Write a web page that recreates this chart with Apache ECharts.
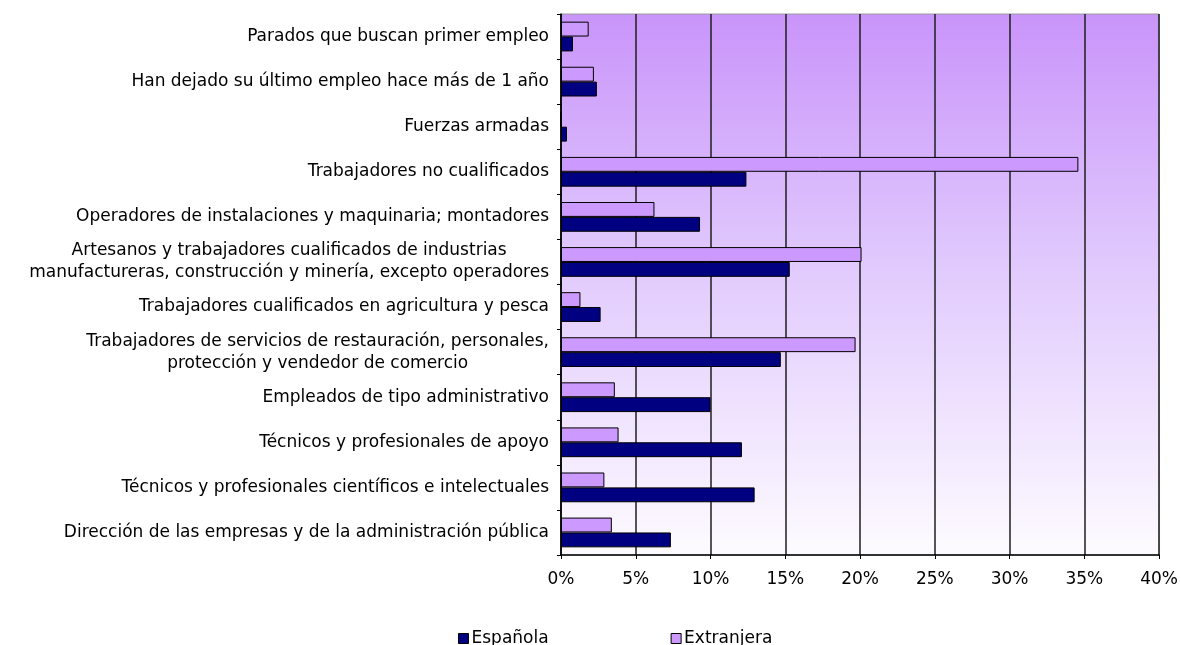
<!DOCTYPE html>
<html>
<head>
<meta charset="utf-8">
<script src="https://cdn.jsdelivr.net/npm/echarts@6/dist/echarts.min.js"></script>
<style>
  html, body { margin: 0; padding: 0; background: #fff; }
  #chart { width: 1181px; height: 645px; }
</style>
</head>
<body>
<div id="chart"></div>
<script>
// categories listed top to bottom as in the picture
const categories = [
  'Parados que buscan primer empleo',
  'Han dejado su último empleo hace más de 1 año',
  'Fuerzas armadas',
  'Trabajadores no cualificados',
  'Operadores de instalaciones y maquinaria; montadores',
  'Artesanos y trabajadores cualificados de industrias\nmanufactureras, construcción y minería, excepto operadores',
  'Trabajadores cualificados en agricultura y pesca',
  'Trabajadores de servicios de restauración, personales,\nprotección y vendedor de comercio',
  'Empleados de tipo administrativo',
  'Técnicos y profesionales de apoyo',
  'Técnicos y profesionales científicos e intelectuales',
  'Dirección de las empresas y de la administración pública'
]

const espanola = [0.8, 2.4, 0.4, 12.4, 9.3, 15.3, 2.65, 14.7, 10.0, 12.1, 12.95, 7.35]
const extranjera = [1.85, 2.2, 0, 34.6, 6.25, 20.1, 1.3, 19.7, 3.6, 3.85, 2.9, 3.4]

const xTicks = { min: 0, max: 40, interval: 5 }

const chart = echarts.init(document.getElementById('chart'))

const labelFont = 'DejaVu Sans'
const fs = 17

chart.setOption({
  animation: false,
  textStyle: { fontFamily: labelFont },
  grid: {
    left: 561,
    right: 20,
    top: 14,
    bottom: 90,
    show: true,
    borderColor: '#9a9a9a',
    borderWidth: 1,
    backgroundColor: new echarts.graphic.LinearGradient(0, 0, 0, 1, [
      { offset: 0, color: '#c994fa' },
      { offset: 0.45, color: '#e0c8fd' },
      { offset: 1, color: '#fdfbff' }
    ])
  },
  legend: {
    data: ['Española', 'Extranjera'],
    left: 453,
    top: 625,
    itemWidth: 10,
    itemHeight: 10,
    itemGap: 122,
    icon: 'rect',
    textStyle: { fontSize: fs, color: '#000', fontFamily: labelFont, padding: [0, 0, 0, -2] },
    itemStyle: { borderColor: '#000', borderWidth: 1 }
  },
  xAxis: {
    type: 'value',
    min: xTicks.min,
    max: xTicks.max,
    interval: xTicks.interval,
    axisLine: { show: true, lineStyle: { color: '#000', width: 1.5 } },
    axisTick: { show: true, length: 4, lineStyle: { color: '#000' } },
    axisLabel: {
      formatter: '{value}%',
      fontSize: fs,
      color: '#000',
      margin: 16,
      fontFamily: labelFont
    },
    splitLine: { show: true, lineStyle: { color: '#1e1e1e', width: 1.5 } }
  },
  yAxis: {
    type: 'category',
    data: categories,
    inverse: true,
    axisLine: { show: true, lineStyle: { color: '#000', width: 1.5 } },
    axisTick: { show: true, length: 4, inside: false, lineStyle: { color: '#000' } },
    axisLabel: {
      margin: 12,
      color: '#000',
      fontSize: fs,
      lineHeight: 22,
      fontFamily: labelFont,
      formatter: v => v.split('\n').map(l => '{c|' + l + '}').join('\n'),
      rich: { c: { align: 'center', fontSize: fs, lineHeight: 22, fontFamily: labelFont, color: '#000' } }
    }
  },
  series: [
    {
      name: 'Extranjera',
      type: 'bar',
      data: extranjera,
      barGap: '0%',
      barCategoryGap: '34%',
      itemStyle: { color: '#cc99ff', borderColor: '#000', borderWidth: 1 }
    },
    {
      name: 'Española',
      type: 'bar',
      data: espanola,
      itemStyle: { color: '#000080', borderColor: '#000', borderWidth: 1 }
    }
  ]
})
</script>
</body>
</html>
